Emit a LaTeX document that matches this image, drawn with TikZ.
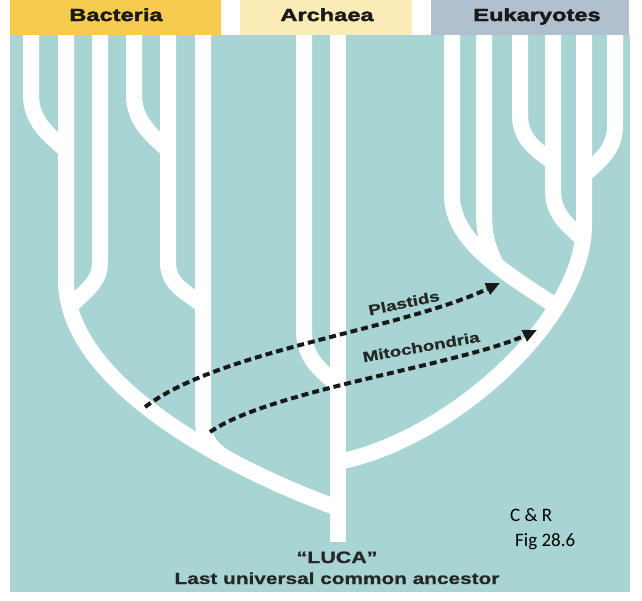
\documentclass[tikz,border=0pt]{standalone}
\usepackage{fontspec}
\usetikzlibrary{arrows.meta}
\newfontfamily\hfont[FakeStretch=1.3,BoldFeatures={FakeBold=0.8}]{Liberation Sans}
\newfontfamily\hvyfont[FakeStretch=1.35,BoldFeatures={FakeBold=2.2}]{Liberation Sans}
\newfontfamily\cfont{Carlito}
\definecolor{tealbg}{HTML}{A8D4D4}
\definecolor{bactc}{HTML}{F6CB4E}
\definecolor{archc}{HTML}{FBEBB7}
\definecolor{eukc}{HTML}{B0C0CF}
\begin{document}
\begin{tikzpicture}[x=1pt,y=-1pt,
  branch/.style={white, line width=16pt},
  transfer/.style={black!90, line width=4pt, dash pattern=on 7pt off 4pt, -{Triangle[length=14pt,width=12pt]}},
  hdr/.style={font={\hvyfont\bfseries\fontsize{17.5}{20}\selectfont}, text=black!90, anchor=base, inner sep=0pt},
  lbl/.style={font={\hfont\bfseries\fontsize{14.5}{16}\selectfont}, text=black!85, anchor=base, inner sep=0pt},
  luca/.style={font={\hfont\bfseries\fontsize{16.5}{20}\selectfont}, text=black!85, anchor=base, inner sep=0pt},
  note/.style={font={\cfont\fontsize{19}{22}\selectfont}, text=black, anchor=base west, inner sep=0pt}]
\useasboundingbox (0,0) rectangle (642,600);
% background
\fill[tealbg] (10,35) rectangle (630,592);
% Bacteria
\draw[branch] (31,35) -- (31,95) .. controls (31,122) and (50,136) .. (66,150);
\draw[branch] (66,35) -- (66,280) .. controls (66,390) and (250,477) .. (338,508);
\draw[branch] (100,35) -- (100,262) .. controls (100,285) and (82,292) .. (67,310);
\draw[branch] (134,35) -- (134,95) .. controls (134,122) and (153,136) .. (168,150);
\draw[branch] (168,35) -- (168,262) .. controls (168,285) and (186,292) .. (203,305);
\draw[branch] (203,35) -- (203,420) .. controls (203,442) and (214,452) .. (233,462);
% Archaea
\draw[branch] (304,35) -- (304,330) .. controls (304,358) and (320,370) .. (338,385);
\draw[branch] (338,35) -- (338,542);
% Eukaryotes
\draw[branch] (452,35) -- (452,195) .. controls (452,240) and (500,270) .. (562,310);
\draw[branch] (484,35) -- (484,208) .. controls (484,232) and (486,244) .. (495,262);
\draw[branch] (520,35) -- (520,115) .. controls (520,140) and (537,150) .. (553,162);
\draw[branch] (553,35) -- (553,190) .. controls (553,215) and (568,225) .. (584,240);
\draw[branch] (615,35) -- (615,125) .. controls (615,150) and (600,160) .. (584,175);
\draw[branch] (584,35) -- (584,225) .. controls (584,320) and (450,440) .. (338,462);
% header bars
\fill[bactc] (10,0) rectangle (221,35);
\fill[archc] (240,0) rectangle (412,35);
\fill[eukc] (431,0) rectangle (629,35);
\node[hdr] (bact) at (116,21) {Bacteria};
\node[hdr] (arch) at (327,21) {Archaea};
\node[hdr] (euk) at (537,21) {Eukaryotes};
% transfers
\coordinate (pS) at (145,407);
\coordinate (pE) at (500,283);
\coordinate (mS) at (210,432);
\coordinate (mE) at (537,330);
\draw[transfer] (pS) .. controls (220,350) and (400,330) .. (pE);
\draw[transfer] (mS) .. controls (270,390) and (460,365) .. (mE);
\node[lbl, rotate=12] (plast) at (405,308) {Plastids};
\node[lbl, rotate=10] (mito) at (422,352) {Mitochondria};
% bottom labels
\node[luca] (lucat) at (337,563) {“LUCA”};
\node[luca, font={\hfont\bfseries\fontsize{16}{20}\selectfont}] (lucad) at (337,584) {Last universal common ancestor};
\node[note] (cr) at (510,521) {C \& R};
\node[note] (fig) at (515,546) {Fig 28.6};
\end{tikzpicture}
\end{document}
